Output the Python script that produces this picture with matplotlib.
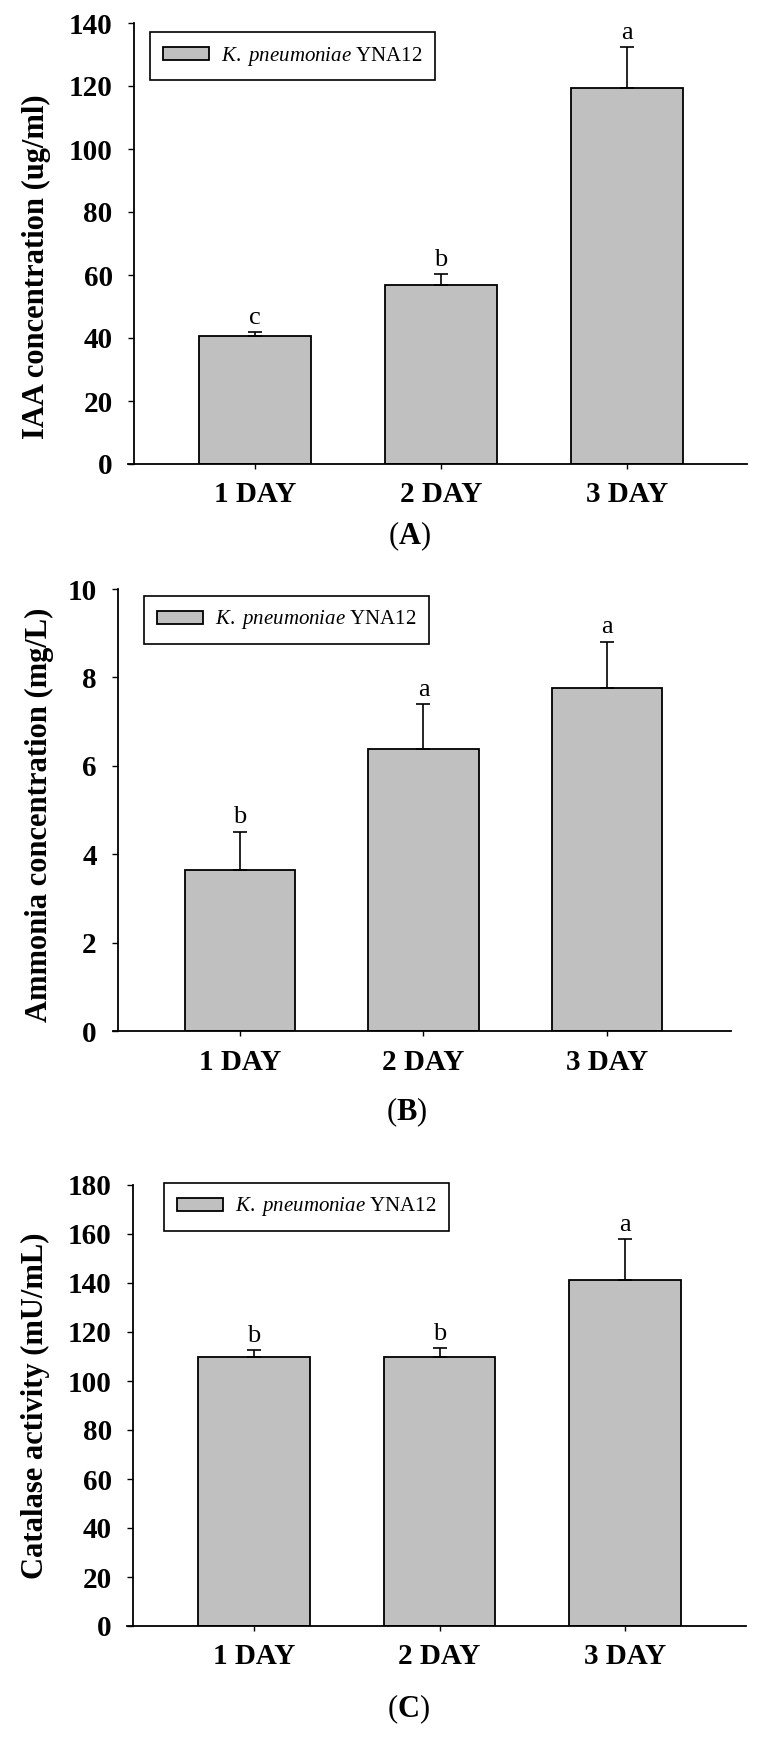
#!/usr/bin/env python3
"""
Three-panel bar chart for K. pneumoniae YNA12:
IAA concentration, ammonia concentration and catalase activity over 3 days.
"""

import matplotlib
matplotlib.use("Agg")
import matplotlib.pyplot as plt

plt.rcParams["font.family"] = ["Liberation Serif", "DejaVu Serif"]
plt.rcParams["mathtext.fontset"] = "custom"
plt.rcParams["mathtext.rm"] = "Liberation Serif"
plt.rcParams["mathtext.it"] = "Liberation Serif:italic"
plt.rcParams["mathtext.bf"] = "Liberation Serif:bold"

# ---- data ----
days = ["1 DAY", "2 DAY", "3 DAY"]
legend_label = r"$\mathit{K.\ pneumoniae}$ YNA12"

iaa_mean = [40.7, 56.8, 119.5]
iaa_err = [1.2, 3.4, 12.8]
iaa_letters = ["c", "b", "a"]
iaa_ticks = [0, 20, 40, 60, 80, 100, 120, 140]

nh3_mean = [3.65, 6.37, 7.76]
nh3_err = [0.86, 1.03, 1.05]
nh3_letters = ["b", "a", "a"]
nh3_ticks = [0, 2, 4, 6, 8, 10]

cat_mean = [110.0, 109.7, 141.3]
cat_err = [2.5, 3.6, 16.6]
cat_letters = ["b", "b", "a"]
cat_ticks = [0, 20, 40, 60, 80, 100, 120, 140, 160, 180]

W, H = 759, 1739


def px_axes(fig, left, right, top, bottom):
    """Add axes from pixel box (top-left origin)."""
    return fig.add_axes([left / W, 1 - bottom / H, (right - left) / W, (bottom - top) / H])


def draw_panel(fig, box, xlim, xstart, means, errs, letters, yticks,
               ylabel, ylabel_xy, legend_xy, caption, caption_xy):
    ax = px_axes(fig, *box)
    x = [1, 2, 3]
    ax.bar(x, means, width=0.6, color="#c0c0c0", edgecolor="black", linewidth=1.3, zorder=2)
    ax.errorbar(x, means, yerr=[[0] * 3, errs], fmt="none", ecolor="black",
                elinewidth=1.2, capsize=5, capthick=1.2, zorder=3)

    for xi, m, e, lt in zip(x, means, errs, letters):
        ax.annotate(lt, (xi, m + e), xytext=(0, 6), textcoords="offset points",
                    ha="center", va="baseline", fontsize=19)

    ax.set_xlim(*xlim)
    ax.set_ylim(yticks[0], yticks[-1])
    ax.set_yticks(yticks)
    ax.set_yticklabels([str(t) for t in yticks], fontweight="bold", fontsize=21)
    ax.set_xticks(x)
    ax.set_xticklabels(days, fontweight="bold", fontsize=21)
    ax.tick_params(axis="y", direction="out", length=4.3, width=1.0, pad=11)
    ax.tick_params(axis="x", direction="out", length=3.6, width=1.0, pad=9)

    for side in ("top", "right"):
        ax.spines[side].set_visible(False)
    for side in ("left", "bottom"):
        ax.spines[side].set_linewidth(1.3)
    ax.spines["bottom"].set_bounds(xstart, xlim[1])

    leg = ax.legend([ax.patches[0]], [legend_label], loc="upper left",
                    bbox_to_anchor=(legend_xy[0] / W, 1 - legend_xy[1] / H),
                    bbox_transform=fig.transFigure, borderaxespad=0,
                    fontsize=15, fancybox=False, framealpha=1,
                    handlelength=2.25, handleheight=0.6, handletextpad=0.55,
                    borderpad=0.6)
    leg.get_frame().set_edgecolor("black")
    leg.get_frame().set_linewidth(1.2)

    fig.text(ylabel_xy[0] / W, 1 - ylabel_xy[1] / H, ylabel, rotation=90,
             ha="center", va="center", fontsize=22, fontweight="bold")
    fig.text(caption_xy[0] / W, 1 - caption_xy[1] / H, caption,
             ha="center", va="center", fontsize=22)
    return ax


def main():
    fig = plt.figure(figsize=(W / 100, H / 100), dpi=100)

    # Panel A: IAA
    draw_panel(fig, (134, 747, 23, 464), (0.3495, 3.645), 0.317,
               iaa_mean, iaa_err, iaa_letters, iaa_ticks,
               "IAA concentration (ug/ml)", (36, 267), (150, 32),
               r"($\mathbf{A}$)", (409, 536))

    # Panel B: Ammonia
    draw_panel(fig, (118, 731, 589, 1031), (0.335, 3.676), 0.308,
               nh3_mean, nh3_err, nh3_letters, nh3_ticks,
               "Ammonia concentration (mg/L)", (39, 815), (144, 596),
               r"($\mathbf{B}$)", (407, 1112))

    # Panel C: Catalase
    draw_panel(fig, (133, 746, 1185, 1626), (0.3477, 3.652), 0.315,
               cat_mean, cat_err, cat_letters, cat_ticks,
               "Catalase activity (mU/mL)", (35, 1406), (164, 1183),
               r"($\mathbf{C}$)", (408, 1709))

    fig.savefig("out.png", dpi=100)
    plt.close(fig)


if __name__ == "__main__":
    main()
